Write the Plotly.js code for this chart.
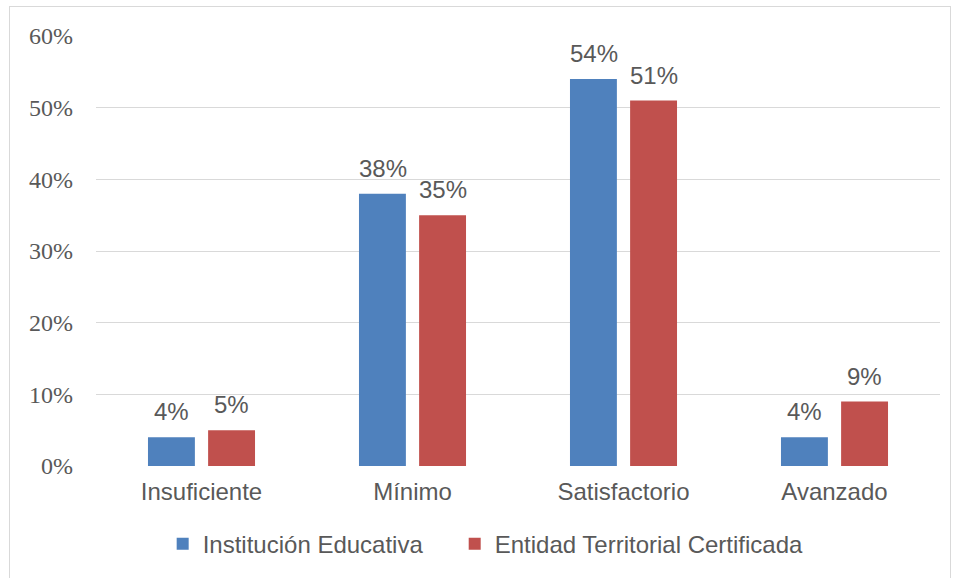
<!DOCTYPE html>
<html>
<head>
<meta charset="utf-8">
<script src="https://cdn.plot.ly/plotly-3.0.1.min.js"></script>
<style>
  html, body { margin: 0; padding: 0; background: #ffffff; }
  #chart { position: absolute; left: 9px; top: 6px; width: 942px; height: 580px;
           border: 1px solid #d9d9d9; box-sizing: border-box; }
</style>
</head>
<body>
<div id="chart"></div>
<script>
const categories = ["Insuficiente", "Mínimo", "Satisfactorio", "Avanzado"];
const seriesNames = ["Institución Educativa", "Entidad Territorial Certificada"];
const institucion = [4, 38, 54, 4];
const entidad = [5, 35, 51, 9];
const yTicks = [0, 10, 20, 30, 40, 50, 60];
const colors = ["#4F81BD", "#C0504D"];

const textColor = "#595959";
const sans = "Liberation Sans, Arial, sans-serif";

function makeTrace(name, values, color, legendId) {
  return {
    type: "bar",
    name: name,
    x: categories,
    y: values,
    marker: { color: color },
    legend: legendId,
    hoverinfo: "skip"
  };
}

const data = [
  makeTrace(seriesNames[0], institucion, colors[0], "legend"),
  makeTrace(seriesNames[1], entidad, colors[1], "legend2")
];

const allSeries = [institucion, entidad];
const annotations = [];
allSeries.forEach((vals, s) => {
  vals.forEach((v, i) => {
    annotations.push({
      x: categories[i], y: v, xref: "x", yref: "y",
      text: v + "%",
      showarrow: false,
      xanchor: "center", yanchor: "bottom",
      xshift: s === 0 ? -30 : 30,
      yshift: 10,
      font: { family: sans, size: 24, color: textColor }
    });
  });
});

function legendSpec(xPos) {
  return {
    orientation: "h",
    x: xPos, xanchor: "left",
    y: -0.182, yanchor: "middle",
    font: { family: sans, size: 24, color: textColor },
    itemwidth: 30,
    bgcolor: "rgba(0,0,0,0)"
  };
}

const layout = {
  width: 940,
  height: 578,
  margin: { l: 86, r: 10, t: 29, b: 119 },
  paper_bgcolor: "#ffffff",
  plot_bgcolor: "#ffffff",
  barmode: "group",
  bargap: 0.43,
  bargroupgap: 0.22,
  showlegend: true,
  annotations: annotations,
  legend: legendSpec(0.079),
  legend2: legendSpec(0.425),
  xaxis: {
    type: "category",
    showgrid: false,
    showline: false,
    ticks: "",
    tickfont: { family: sans, size: 24, color: textColor },
    ticklabelstandoff: 9
  },
  yaxis: {
    range: [0, 60],
    tickvals: yTicks,
    ticktext: yTicks.map(v => v + "%"),
    showgrid: true,
    gridcolor: "#d9d9d9",
    gridwidth: 1,
    zeroline: false,
    showline: false,
    ticks: "",
    tickfont: { family: "Liberation Serif, Times New Roman, serif", size: 24, color: textColor },
    ticklabelstandoff: 22
  }
};

Plotly.newPlot("chart", data, layout, { displayModeBar: false, staticPlot: true });
</script>
</body>
</html>
